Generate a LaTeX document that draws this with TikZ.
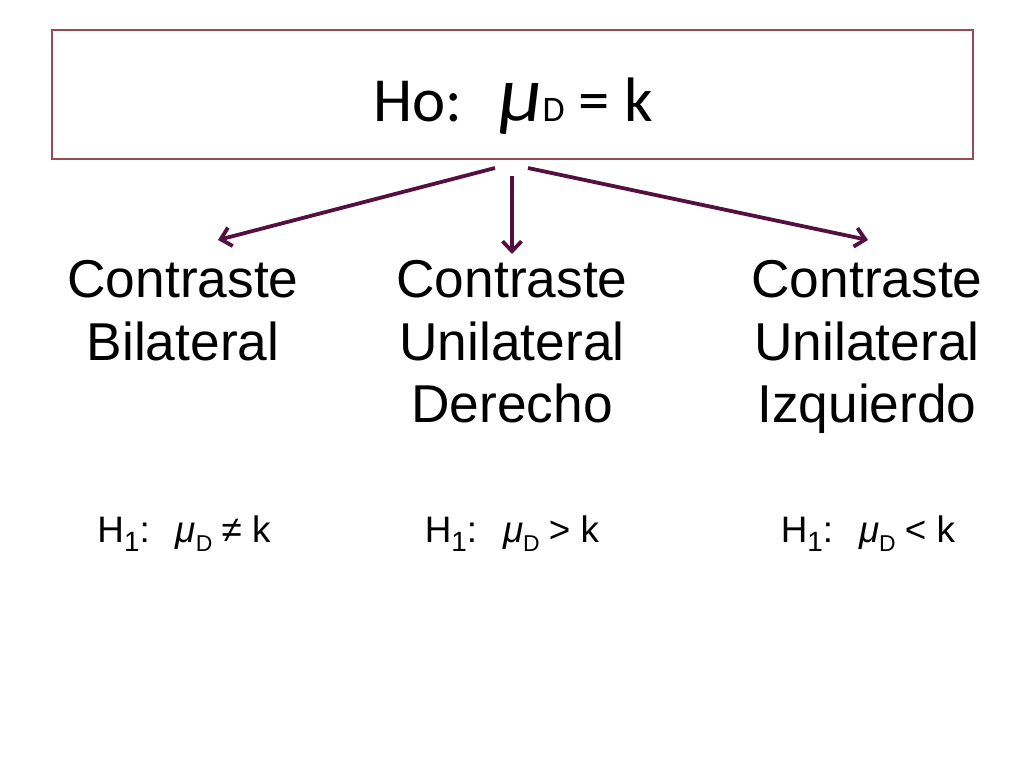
\documentclass[tikz,border=0pt]{standalone}
\usepackage{fontspec}
\setmainfont{Liberation Sans}
\newfontfamily\calib{Carlito}
\usetikzlibrary{arrows.meta}
\definecolor{boxred}{HTML}{9A4A55}
\definecolor{plum}{HTML}{55103F}
\newcommand{\lowsub}[2]{\raisebox{-9bp}{\fontsize{#1}{#1}\selectfont #2}}
\tikzset{
  hobox/.style={draw=boxred,line width=1.3bp,minimum width=921bp,minimum height=129bp,inner sep=0pt},
  contr/.style={align=center,font=\fontsize{53.5}{63}\selectfont,inner sep=0pt,anchor=north},
  hyp/.style={font=\fontsize{37}{40}\selectfont,inner sep=0pt,anchor=base},
  arr/.style={draw=plum,line width=3.8bp,-{Straight Barb[length=10bp,width=19bp]}}
}
\begin{document}
\begin{tikzpicture}[x=1bp,y=-1bp]
\useasboundingbox (0,0) rectangle (1024,768);
\node[hobox] (ho) at (512.5,94.5) {};
\node[inner sep=0pt,anchor=base] (holab) at (513,121) {\calib\fontsize{63}{63}\selectfont Ho:\hspace{0.6em}{\fontsize{80}{80}\selectfont\itshape μ}{\fontsize{36}{36}\selectfont D} = k};
\node[contr] (bil) at (183,260) {Contraste\\Bilateral};
\node[contr] (der) at (512,260) {Contraste\\Unilateral\\Derecho};
\node[contr] (izq) at (867,260) {Contraste\\Unilateral\\Izquierdo};
\node[hyp] (h1) at (184,542) {H\lowsub{28}{1}:\hspace{0.7em}\textit{μ}\lowsub{23}{D}\hspace{0.25em}≠ k};
\node[hyp] (h2) at (512,542) {H\lowsub{28}{1}:\hspace{0.7em}\textit{μ}\lowsub{23}{D}\hspace{0.25em}> k};
\node[hyp] (h3) at (868,542) {H\lowsub{28}{1}:\hspace{0.7em}\textit{μ}\lowsub{23}{D}\hspace{0.25em}< k};
\coordinate (a1) at (495,168);
\coordinate (a2) at (512,176);
\coordinate (a3) at (528,168);
\coordinate (b1) at (218,240);
\coordinate (b2) at (512,254);
\coordinate (b3) at (868,240);
\draw[arr] (a1) -- (b1);
\draw[arr] (a2) -- (b2);
\draw[arr] (a3) -- (b3);
\end{tikzpicture}
\end{document}
